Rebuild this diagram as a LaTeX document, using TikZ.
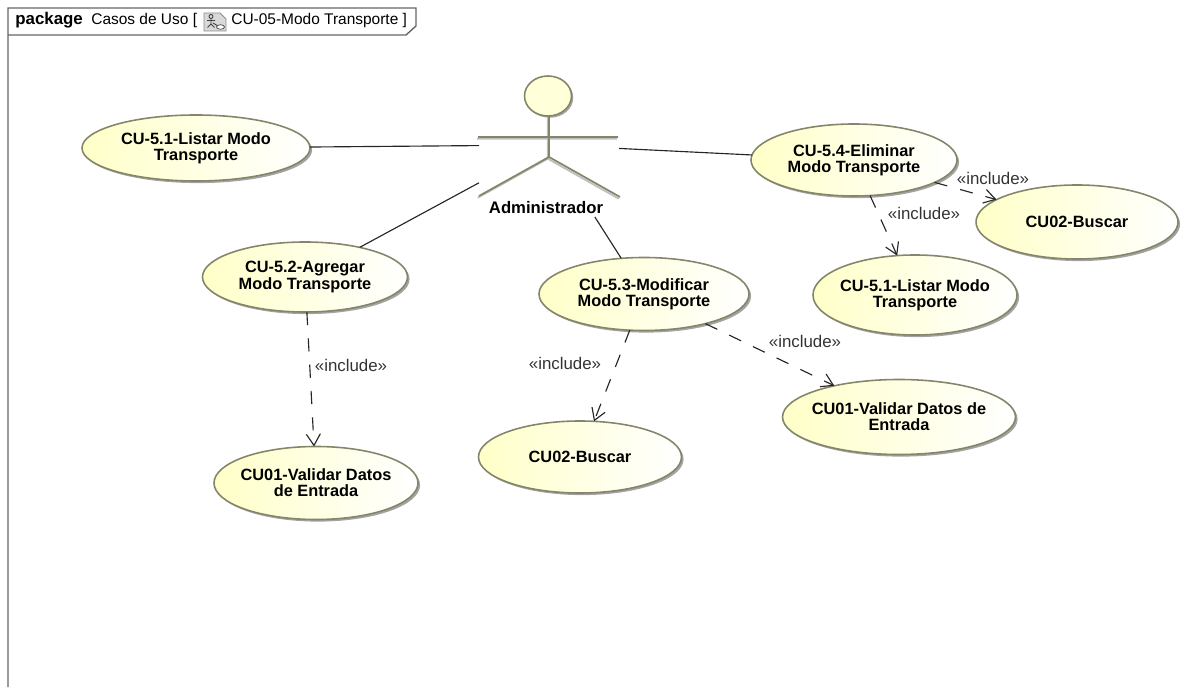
\documentclass[tikz,border=0pt]{standalone}
\usepackage{fontspec}
\setmainfont{Liberation Sans}
\usepackage{tikz}
\usetikzlibrary{arrows.meta,shapes,shadows}
\definecolor{caseFill}{HTML}{FFFFC8}
\definecolor{caseLine}{HTML}{85856A}
\definecolor{frameLine}{HTML}{666666}
\tikzstyle{useCase}=[ellipse, draw=caseLine, line width=0.9pt, left color=caseFill, right color=white, inner xsep=-12pt, inner ysep=-6pt, outer sep=0pt, align=center, font=\fontsize{9.3}{9.2}\selectfont\bfseries, drop shadow={shadow xshift=1.2pt, shadow yshift=-1.2pt, fill=black!60, opacity=0.6}]
\tikzstyle{actorHead}=[ellipse, draw=caseLine, line width=0.9pt, fill=caseFill!70!white, minimum width=0.94cm, minimum height=0.8cm, inner sep=0pt, drop shadow={shadow xshift=1pt, shadow yshift=-1pt, fill=black!60, opacity=0.6}]
\tikzstyle{actorLine}=[draw=caseLine, line width=1pt]
\tikzstyle{actorShadow}=[draw=black!25, line width=1pt, xshift=-0.7pt, yshift=-1pt]
\tikzstyle{assoc}=[draw=black!85, line width=0.65pt]
\tikzstyle{incl}=[draw=black!85, line width=0.65pt, dash pattern=on 7.5pt off 7.5pt, ->, >={Straight Barb[length=6.5pt, width=8pt]}]
\tikzstyle{inclLabel}=[inner sep=0pt, text=black!80, font=\fontsize{9.6}{9.6}\selectfont]
\tikzstyle{title}=[anchor=west, inner sep=0pt, font=\fontsize{8.8}{8.8}\selectfont]
\begin{document}
\begin{tikzpicture}
      \useasboundingbox (0,0) rectangle (24.02,13.74);
      \draw[frameLine, line width=0.8pt] (0.16,0) -- (0.16,13.58) -- (8.32,13.58) -- (8.32,13.22) -- (8.12,13.04) -- (0.16,13.04);
      \node(t1) [title, font=\fontsize{9.6}{9.6}\selectfont\bfseries] at (0.30, 13.33){package};
      \node(t2) [title] at (1.82, 13.33){Casos de Uso [};
      \node(t3) [title] at (4.62, 13.33){CU-05-Modo Transporte ]};
      \draw[black!45, fill=black!15, line width=0.5pt] (4.08,13.12) -- (4.08,13.48) -- (4.40,13.48) -- (4.52,13.36) -- (4.52,13.12) -- cycle;
      \draw[black!75, line width=0.5pt] (4.22,13.41) circle (0.04) (4.22,13.37) -- (4.22,13.26) (4.14,13.33) -- (4.30,13.33) (4.15,13.19) -- (4.22,13.26) -- (4.29,13.19) (4.26,13.28) -- (4.36,13.22);
      \draw[black!75, fill=white, line width=0.4pt] (4.41,13.20) ellipse (0.08 and 0.045);
      \node(admin) [minimum width=2.8cm, minimum height=2.88cm, inner sep=0pt, outer sep=0pt] at (10.98, 10.84){};
      \node(head) [actorHead] at (10.96, 11.82){};
      \foreach \s in {actorShadow, actorLine}{
        \draw[\s] (10.98,11.42) -- (10.98,10.60) (9.56,11.0) -- (12.36,11.0) (9.58,9.82) -- (10.98,10.60) -- (12.40,9.80);
      }
      \node(adminLabel) [inner sep=0pt, font=\fontsize{9.5}{9.5}\selectfont\bfseries] at (10.92, 9.58){Administrador};
      \node(list) [useCase, minimum width=4.56cm, minimum height=1.32cm] at (3.92, 10.78){CU-5.1-Listar Modo\\Transporte};
      \node(del) [useCase, minimum width=4.12cm, minimum height=1.44cm] at (17.08, 10.54){CU-5.4-Eliminar\\Modo Transporte};
      \node(find) [useCase, minimum width=4.04cm, minimum height=1.48cm] at (21.54, 9.30){CU02-Buscar};
      \node(listB) [useCase, minimum width=4.08cm, minimum height=1.6cm] at (18.30, 7.84){CU-5.1-Listar Modo\\Transporte};
      \node(add) [useCase, minimum width=4.10cm, minimum height=1.40cm] at (6.10, 8.20){CU-5.2-Agregar\\Modo Transporte};
      \node(mod) [useCase, minimum width=4.20cm, minimum height=1.46cm] at (12.88, 7.86){CU-5.3-Modificar\\Modo Transporte};
      \node(valid) [useCase, minimum width=4.66cm, minimum height=1.50cm] at (17.98, 5.40){CU01-Validar Datos de\\Entrada};
      \node(findB) [useCase, minimum width=4.06cm, minimum height=1.44cm] at (11.60, 4.60){CU02-Buscar};
      \node(validB) [useCase, minimum width=4.08cm, minimum height=1.46cm] at (6.32, 4.08){CU01-Validar Datos\\de Entrada};
      \draw[assoc] (list) to (admin);
      \draw[assoc] (del) to (admin);
      \draw[assoc] (add) to (admin);
      \draw[assoc] (mod) to (admin);
      \draw[incl] (del) to (find);
      \draw[incl] (del) to (listB);
      \draw[incl] (add) to (validB);
      \draw[incl] (mod) to (findB);
      \draw[incl] (mod) to (valid);
      \node(l1) [inclLabel] at (19.86, 10.18){«include»};
      \node(l2) [inclLabel] at (18.48, 9.48){«include»};
      \node(l3) [inclLabel] at (16.10, 6.92){«include»};
      \node(l4) [inclLabel] at (7.02, 6.44){«include»};
      \node(l5) [inclLabel] at (11.30, 6.48){«include»};
\end{tikzpicture}
\end{document}
